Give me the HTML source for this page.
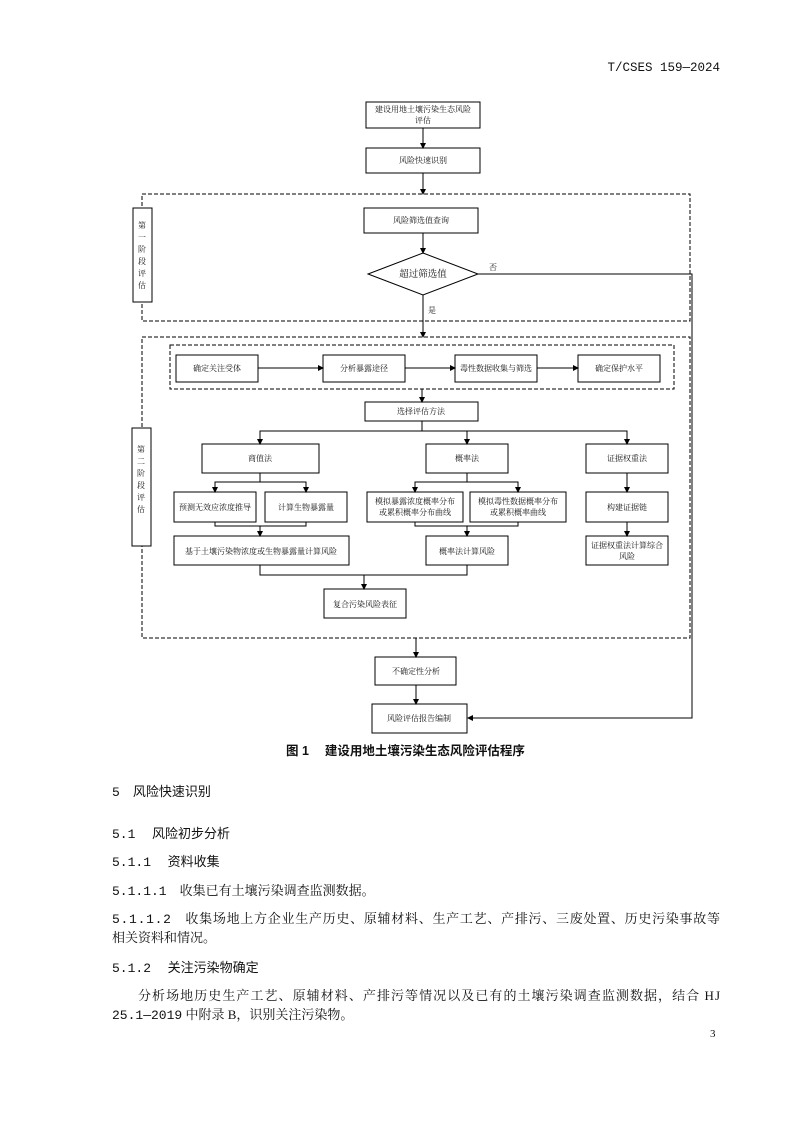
<!DOCTYPE html>
<html><head><meta charset="utf-8"><style>
html,body{margin:0;padding:0;background:#fff}
svg{display:block}
text{font-family:"Liberation Serif","Noto Serif CJK SC","Noto Sans CJK SC",serif;fill:#111}
.s{font-size:8px}
.b{font-size:13px;font-family:"Liberation Sans","Noto Sans CJK SC",sans-serif}
.r{font-size:13px}
.m{font-family:"Liberation Mono",monospace}
</style></head><body>
<svg width="794" height="1123" viewBox="0 0 794 1123" xmlns="http://www.w3.org/2000/svg">
<defs><marker id="a" markerWidth="6" markerHeight="6" refX="5" refY="3" orient="auto" markerUnits="userSpaceOnUse"><path d="M0,0 L6,3 L0,6 z" fill="#000"/></marker></defs>
<text x="720" y="71" text-anchor="end" style="font-size:12.5px;font-family:'Liberation Mono',monospace">T/CSES 159—2024</text>
<g stroke="#000" stroke-width="1" fill="none">
<rect x="366" y="102" width="114" height="26"/>
<rect x="366" y="148" width="114" height="25"/>
<rect x="142" y="194" width="548" height="127" stroke-dasharray="4,2"/>
<rect x="133" y="208" width="19" height="94" fill="#fff"/>
<rect x="364" y="208" width="114" height="25"/>
<path d="M423,253 L478,274 L423,295 L368,274 z"/>
<rect x="142" y="337" width="548" height="301" stroke-dasharray="4,2"/>
<rect x="132" y="428" width="19" height="118" fill="#fff"/>
<rect x="170" y="345" width="504" height="44" stroke-dasharray="4,2"/>
<rect x="176" y="355" width="82" height="27"/>
<rect x="323" y="355" width="82" height="27"/>
<rect x="455" y="355" width="82" height="27"/>
<rect x="578" y="355" width="82" height="27"/>
<rect x="365" y="402" width="113" height="19"/>
<rect x="202" y="444" width="117" height="29"/>
<rect x="426" y="444" width="82" height="29"/>
<rect x="586" y="444" width="82" height="29"/>
<rect x="174" y="492" width="82" height="30"/>
<rect x="265" y="492" width="82" height="30"/>
<rect x="367" y="492" width="96" height="30"/>
<rect x="470" y="492" width="96" height="30"/>
<rect x="586" y="492" width="82" height="30"/>
<rect x="174" y="536" width="175" height="29"/>
<rect x="426" y="536" width="82" height="29"/>
<rect x="586" y="536" width="82" height="29"/>
<rect x="324" y="589" width="82" height="29"/>
<rect x="375" y="657" width="81" height="28"/>
<rect x="372" y="704" width="95" height="29"/>
</g>
<g stroke="#000" stroke-width="1" fill="none" marker-end="url(#a)">
<path d="M423,128 V148"/>
<path d="M423,173 V194"/>
<path d="M423,233 V253"/>
<path d="M423,295 V337"/>
<path d="M478,274 H692 V718 H468"/>
<path d="M258,368 H323"/>
<path d="M405,368 H455"/>
<path d="M537,368 H578"/>
<path d="M422,389 V402"/>
<path d="M422,421 V431 H260 V444"/>
<path d="M422,431 H467 V444"/>
<path d="M467,431 H627 V444"/>
<path d="M260,473 V482 H215 V492"/>
<path d="M260,482 H306 V492"/>
<path d="M467,473 V482 H415 V492"/>
<path d="M467,482 H518 V492"/>
<path d="M627,473 V492"/>
<path d="M627,522 V536"/>
<path d="M215,522 V526 H306 V522 M260,526 V536"/>
<path d="M415,522 V526 H518 V522 M467,526 V536"/>
<path d="M260,565 V575 H467 V565 M364,575 V589"/>
<path d="M416,638 V657"/>
<path d="M416,685 V704"/>
</g>
<g class="s" text-anchor="middle">
<text x="423" y="112">建设用地土壤污染生态风险</text>
<text x="423" y="123">评估</text>
<text x="423" y="163">风险快速识别</text>
<text x="421" y="223">风险筛选值查询</text>
<text x="423" y="277" style="font-size:9.5px">超过筛选值</text>
<text x="493" y="270">否</text>
<text x="432" y="313">是</text>
<text x="217" y="371">确定关注受体</text>
<text x="364" y="371">分析暴露途径</text>
<text x="496" y="371">毒性数据收集与筛选</text>
<text x="619" y="371">确定保护水平</text>
<text x="421" y="414">选择评估方法</text>
<text x="260" y="461">商值法</text>
<text x="467" y="461">概率法</text>
<text x="627" y="461">证据权重法</text>
<text x="215" y="510">预测无效应浓度推导</text>
<text x="306" y="510">计算生物暴露量</text>
<text x="415" y="504">模拟暴露浓度概率分布</text>
<text x="415" y="515">或累积概率分布曲线</text>
<text x="518" y="504">模拟毒性数据概率分布</text>
<text x="518" y="515">或累积概率曲线</text>
<text x="627" y="510">构建证据链</text>
<text x="261" y="554">基于土壤污染物浓度或生物暴露量计算风险</text>
<text x="467" y="554">概率法计算风险</text>
<text x="627" y="548">证据权重法计算综合</text>
<text x="627" y="559">风险</text>
<text x="365" y="607">复合污染风险表征</text>
<text x="416" y="674">不确定性分析</text>
<text x="419" y="721">风险评估报告编制</text>
</g>
<g class="s" text-anchor="middle">
<text x="142" y="228">第</text><text x="142" y="240">一</text><text x="142" y="252">阶</text><text x="142" y="264">段</text><text x="142" y="276">评</text><text x="142" y="288">估</text>
<text x="141" y="452">第</text><text x="141" y="464">二</text><text x="141" y="476">阶</text><text x="141" y="488">段</text><text x="141" y="500">评</text><text x="141" y="512">估</text>
</g>
<text class="b" x="286" y="755" style="font-size:12.5px;font-weight:bold">图 1　 建设用地土壤污染生态风险评估程序</text>
<text class="b" x="112" y="796"><tspan class="m">5</tspan>　风险快速识别</text>
<text class="b" x="112" y="838"><tspan class="m">5.1</tspan>　 风险初步分析</text>
<text class="b" x="112" y="866"><tspan class="m">5.1.1</tspan>　 资料收集</text>
<text class="r" x="112" y="895"><tspan class="m">5.1.1.1</tspan>　收集已有土壤污染调查监测数据。</text>
<text class="r" x="112" y="923" textLength="608" lengthAdjust="spacing"><tspan class="m">5.1.1.2</tspan>　收集场地上方企业生产历史、原辅材料、生产工艺、产排污、三废处置、历史污染事故等</text>
<text class="r" x="112" y="942">相关资料和情况。</text>
<text class="b" x="112" y="972"><tspan class="m">5.1.2</tspan>　 关注污染物确定</text>
<text class="r" x="138" y="1000" textLength="582" lengthAdjust="spacing">分析场地历史生产工艺、原辅材料、产排污等情况以及已有的土壤污染调查监测数据，结合 HJ</text>
<text class="r" x="112" y="1019"><tspan class="m">25.1—2019</tspan> 中附录 B，识别关注污染物。</text>
<text class="r" x="710" y="1037" style="font-size:11px">3</text>
</svg>
</body></html>
